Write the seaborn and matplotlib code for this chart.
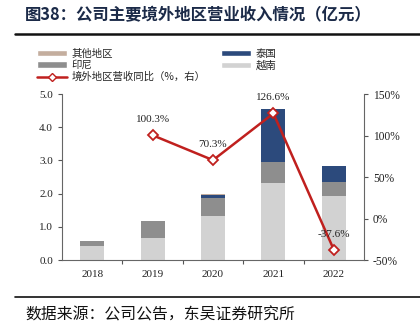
import numpy as np
import pandas as pd
import matplotlib
matplotlib.use("Agg")
import matplotlib.pyplot as plt
import seaborn as sns
from matplotlib.patches import Patch
from matplotlib.lines import Line2D

years = ["2018", "2019", "2020", "2021", "2022"]
vietnam = [0.42, 0.67, 1.33, 2.33, 1.93]
indonesia = [0.16, 0.50, 0.54, 0.63, 0.41]
thailand = [0.00, 0.00, 0.08, 1.58, 0.49]
others = [0.00, 0.00, 0.05, 0.00, 0.00]
growth = [np.nan, 100.3, 70.3, 126.6, -37.6]
growth_labels = ["", "100.3%", "70.3%", "126.6%", "-37.6%"]

c_other = "#C4AE9E"
c_indo = "#8E8E8E"
c_thai = "#2C4A7C"
c_viet = "#D2D2D2"
c_line = "#C0201E"

sns.set_theme(style="white")
plt.rcParams["font.family"] = ["Liberation Serif", "Noto Sans CJK SC", "DejaVu Sans"]
plt.rcParams["axes.unicode_minus"] = False
cjk = ["Noto Sans CJK SC", "DejaVu Sans"]

fig = plt.figure(figsize=(4.2, 3.31), dpi=100)
ax = fig.add_axes([0.1476, 0.2145, 0.7191, 0.5015])

v = np.array(vietnam)
i = np.array(indonesia)
t = np.array(thailand)
o = np.array(others)
layers = [
    (v + i + t + o, c_other),
    (v + i + t, c_thai),
    (v + i, c_indo),
    (v, c_viet),
]
for vals, col in layers:
    df = pd.DataFrame({"year": years, "val": vals})
    sns.barplot(data=df, x="year", y="val", color=col, saturation=1,
                width=0.4, ax=ax, linewidth=0)

ax.set_xlim(-0.5, 4.5)
ax.set_ylim(0, 5)
ax.set_yticks([0, 1, 2, 3, 4, 5])
ax.set_yticklabels([f"{x:.1f}" for x in [0, 1, 2, 3, 4, 5]])
ax.set_xlabel("")
ax.set_ylabel("")
ax.set_xticks([0, 1, 2, 3, 4])
ax.set_xticks([0.5, 1.5, 2.5, 3.5], minor=True)
ax.tick_params(axis="x", which="major", length=0, labelsize=8, pad=7, colors="#222222")
ax.tick_params(axis="x", which="minor", length=3, direction="out", color="#555555", width=0.8, bottom=True)
ax.tick_params(axis="y", length=3, direction="out", labelsize=8, color="#555555", width=0.8, left=True)
ax.tick_params(axis="y", labelcolor="#222222")
for s in ["top", "right"]:
    ax.spines[s].set_visible(False)
for s in ["left", "bottom"]:
    ax.spines[s].set_color("#666666")
    ax.spines[s].set_linewidth(0.8)

ax2 = ax.twinx()
ldf = pd.DataFrame({"x": [0, 1, 2, 3, 4], "g": growth}).dropna()
sns.lineplot(data=ldf, x="x", y="g", ax=ax2, color=c_line, linewidth=1.8,
             marker="D", markersize=5.5, markerfacecolor="white",
             markeredgecolor=c_line, markeredgewidth=1.3)
ax2.set_ylim(-50, 150)
ax2.set_xlim(-0.5, 4.5)
ax2.set_yticks([-50, 0, 50, 100, 150])
ax2.set_yticklabels([f"{x}%" for x in [-50, 0, 50, 100, 150]])
ax2.set_ylabel("")
ax2.set_xlabel("")
ax2.tick_params(axis="y", length=3, direction="out", labelsize=8.3, color="#555555", width=0.8, right=True)
ax2.tick_params(axis="y", labelcolor="#222222")
for s in ["top", "left", "bottom"]:
    ax2.spines[s].set_visible(False)
ax2.spines["right"].set_color("#666666")
ax2.spines["right"].set_linewidth(0.8)

for xi, (g, lab) in enumerate(zip(growth, growth_labels)):
    if lab:
        ax2.annotate(lab, (xi, g), xytext=(0, 8), textcoords="offset points",
                     ha="center", va="bottom", fontsize=8, color="#222222")

handles = [
    Patch(facecolor=c_other, label="其他地区"),
    Patch(facecolor=c_indo, label="印尼"),
    Line2D([0], [0], color=c_line, lw=1.8, marker="D", markersize=4.5,
           markerfacecolor="white", markeredgecolor=c_line, label="境外地区营收同比（%，右）"),
    Patch(facecolor=c_thai, label="泰国"),
    Patch(facecolor=c_viet, label="越南"),
]
leg = fig.legend(handles=handles, ncol=2, loc="upper left", bbox_to_anchor=(0.088, 0.853),
                 frameon=False, prop={"family": cjk, "size": 7.5}, handlelength=2.9,
                 handleheight=0.55, labelspacing=0.14, columnspacing=1.5, handletextpad=0.4,
                 borderaxespad=0, borderpad=0)

fig.text(0.06, 0.955, "图38：公司主要境外地区营业收入情况（亿元）", fontsize=11.8,
         fontweight="bold", color="#1B2A48", va="center", ha="left", family=cjk)
fig.add_artist(Line2D([0.036, 1.0], [0.898, 0.898], color="#111111", lw=1.8, transform=fig.transFigure))
fig.add_artist(Line2D([0.036, 1.0], [0.103, 0.103], color="#111111", lw=1.2, transform=fig.transFigure))
fig.text(0.06, 0.048, "数据来源：公司公告，东吴证券研究所", fontsize=11.4, color="#111111",
         va="center", ha="left", family=cjk)

fig.savefig("out.png", dpi=100)
